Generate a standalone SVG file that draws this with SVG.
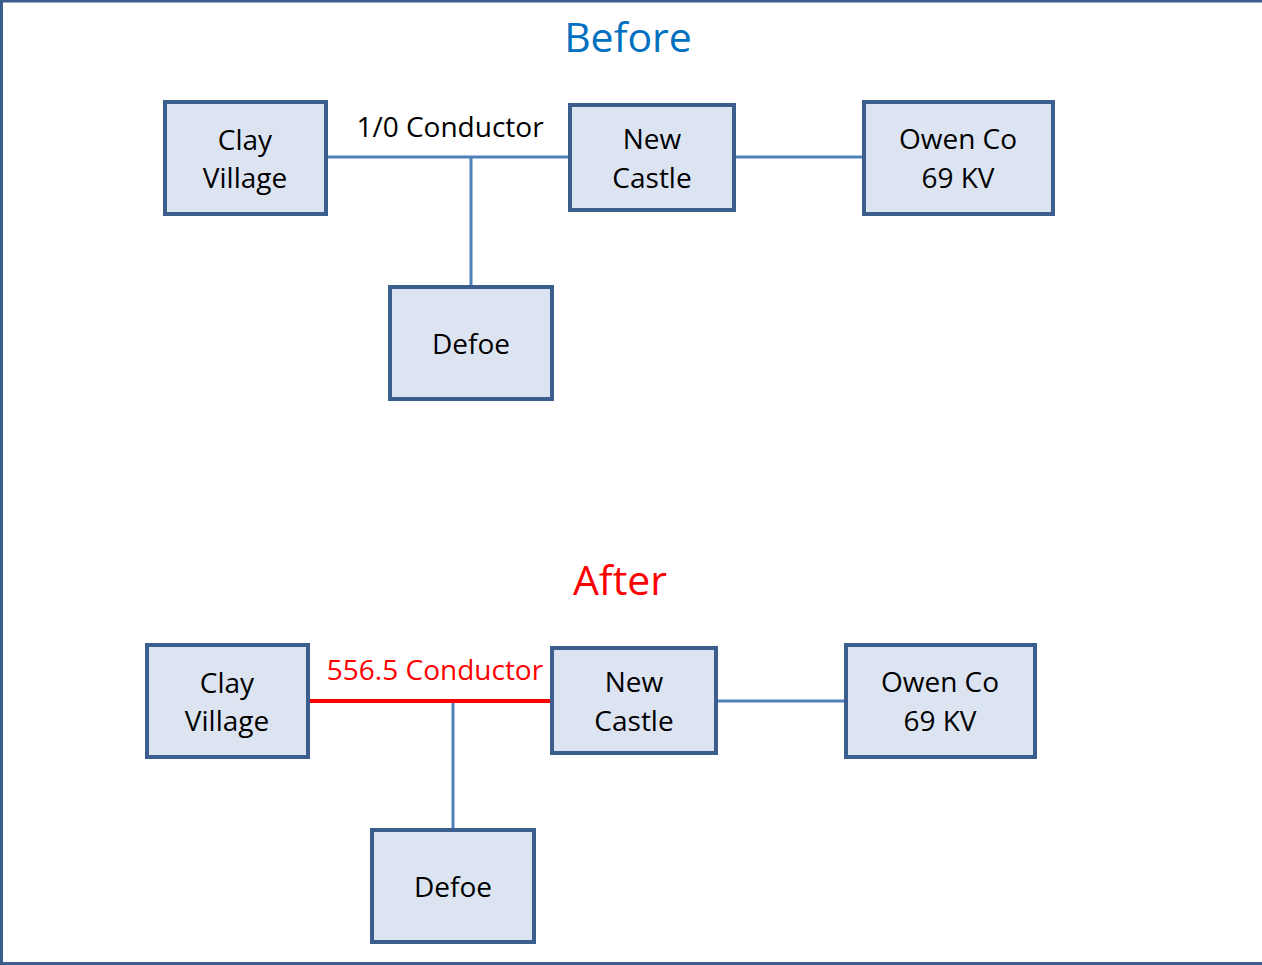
<svg xmlns="http://www.w3.org/2000/svg" width="1262" height="965" viewBox="0 0 1262 965">
<style>
.node rect{fill:#DCE4F1;stroke:#3B5E8C;stroke-width:4}
.node text{font-family:"Open Sans","Noto Sans",sans-serif;font-size:28px;fill:#000;text-anchor:middle}
.conn line{stroke:#4F81BD;stroke-width:3}
.conn line.red{stroke:#FF0000;stroke-width:4}
.lbl{font-family:"Open Sans","Noto Sans",sans-serif;font-size:28px;text-anchor:middle}
.title{font-family:"Open Sans","Noto Sans",sans-serif;font-size:41px;text-anchor:middle}
</style>
<rect x="0" y="0" width="1262" height="965" fill="#FFFFFF"/>
<g id="frame" fill="none" stroke="#3B5E8C">
<line x1="0" y1="1" x2="1262" y2="1" stroke-width="3"/>
<line x1="1.5" y1="0" x2="1.5" y2="965" stroke-width="3"/>
<line x1="0" y1="963.5" x2="1262" y2="963.5" stroke-width="3"/>
</g>
<text class="title" x="628" y="52" fill="#0070C0">Before</text>
<text class="title" x="620" y="595" fill="#FF0000">After</text>
<g id="connectors" class="conn">
<line x1="327" y1="157" x2="569" y2="157"/>
<line x1="471" y1="157" x2="471" y2="286"/>
<line x1="735" y1="157" x2="863" y2="157"/>
<line class="red" x1="309" y1="701" x2="551" y2="701"/>
<line x1="453" y1="703" x2="453" y2="829"/>
<line x1="717" y1="701" x2="845" y2="701"/>
</g>
<text class="lbl" x="450" y="137" fill="#000000">1/0 Conductor</text>
<text class="lbl" x="435" y="680" fill="#FF0000">556.5 Conductor</text>
<g id="b-clay" class="node"><rect x="165" y="102" width="161" height="112"/><text x="245" y="150">Clay</text><text x="245" y="188">Village</text></g>
<g id="b-newcastle" class="node"><rect x="570" y="105" width="164" height="105"/><text x="652" y="149">New</text><text x="652" y="188">Castle</text></g>
<g id="b-owen" class="node"><rect x="864" y="102" width="189" height="112"/><text x="958" y="149">Owen Co</text><text x="958" y="188">69 KV</text></g>
<g id="b-defoe" class="node"><rect x="390" y="287" width="162" height="112"/><text x="471" y="354">Defoe</text></g>
<g id="a-clay" class="node"><rect x="147" y="645" width="161" height="112"/><text x="227" y="693">Clay</text><text x="227" y="731">Village</text></g>
<g id="a-newcastle" class="node"><rect x="552" y="648" width="164" height="105"/><text x="634" y="692">New</text><text x="634" y="731">Castle</text></g>
<g id="a-owen" class="node"><rect x="846" y="645" width="189" height="112"/><text x="940" y="692">Owen Co</text><text x="940" y="731">69 KV</text></g>
<g id="a-defoe" class="node"><rect x="372" y="830" width="162" height="112"/><text x="453" y="897">Defoe</text></g>
</svg>
